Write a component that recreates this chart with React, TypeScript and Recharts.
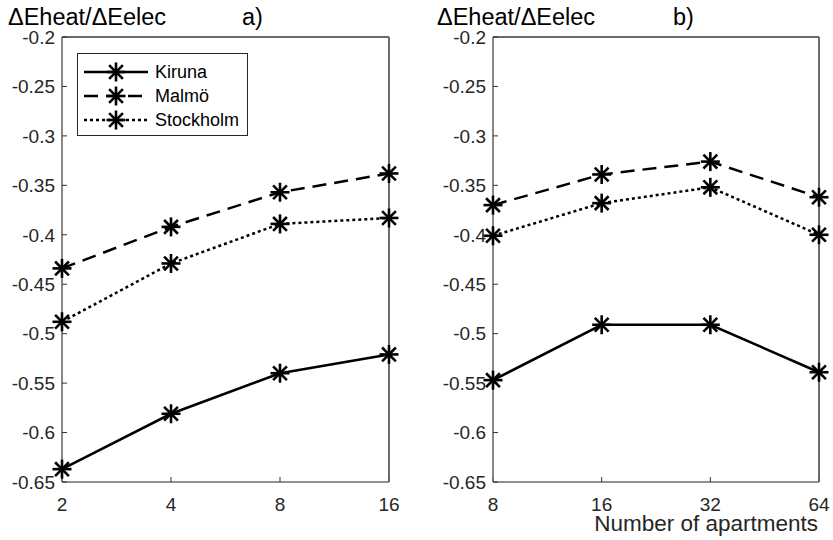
import React from 'react';
import { LineChart, Line, XAxis, YAxis, Legend, ReferenceLine } from 'recharts';

const categoriesA = ['2', '4', '8', '16'];
const kirunaA = [-0.637, -0.581, -0.54, -0.521];
const malmoA = [-0.434, -0.392, -0.357, -0.338];
const stockholmA = [-0.488, -0.429, -0.389, -0.383];

const categoriesB = ['8', '16', '32', '64'];
const kirunaB = [-0.547, -0.491, -0.491, -0.539];
const malmoB = [-0.37, -0.339, -0.326, -0.362];
const stockholmB = [-0.401, -0.368, -0.352, -0.4];

const yTicks = [-0.65, -0.6, -0.55, -0.5, -0.45, -0.4, -0.35, -0.3, -0.25, -0.2];
const yDomain = [-0.65, -0.2];
const seriesNames = ['Kiruna', 'Malmö', 'Stockholm'];
const yLabel = 'ΔEheat/ΔEelec';
const panelLabels = ['a)', 'b)'];
const xLabel = 'Number of apartments';

const FONT = '"Liberation Sans", Arial, Helvetica, sans-serif';
const dashes: (string | undefined)[] = [undefined, '14 8', '3 3'];
const AXIS_COLOR = '#6a6a6a';
const TICK_COLOR = '#333333';

const fmt = (v: number) => String(Number(v.toFixed(2)));

function buildRows(cats: string[], k: number[], m: number[], s: number[]) {
  return cats.map((c, i) => ({ n: c, Kiruna: k[i], 'Malmö': m[i], Stockholm: s[i] }));
}

const renderStar = (props: any) => {
  const { cx, cy, index } = props;
  if (cx == null || cy == null) return <g key={`s-${index}`} />;
  const r = 9.5;
  const d = 6.9;
  return (
    <g key={`s-${index}`} stroke="#000" strokeWidth={2.6} strokeDasharray="none" fill="none">
      <line x1={cx - r} y1={cy} x2={cx + r} y2={cy} />
      <line x1={cx} y1={cy - r} x2={cx} y2={cy + r} />
      <line x1={cx - d} y1={cy - d} x2={cx + d} y2={cy + d} />
      <line x1={cx - d} y1={cy + d} x2={cx + d} y2={cy - d} />
    </g>
  );
};

const LegendBox = () => (
  <svg width={171} height={83} style={{ display: 'block' }}>
    <rect x={0.5} y={0.5} width={170} height={82} fill="#fff" stroke="#262626" strokeWidth={1} />
    {seriesNames.map((name, i) => {
      const y = 19 + i * 24;
      return (
        <g key={name}>
          <line x1={7} y1={y} x2={71} y2={y} stroke="#000" strokeWidth={2.5} strokeDasharray={dashes[i]} />
          {renderStar({ cx: 39, cy: y, index: i })}
          <text x={78} y={y} dy="0.35em" fontSize={18} fontFamily={FONT} fill="#000">
            {name}
          </text>
        </g>
      );
    })}
  </svg>
);

function Panel(props: { rows: any[]; cats: string[]; width: number; marginRight: number; yAxisWidth: number; legend: boolean }) {
  const { rows, cats, width, marginRight, yAxisWidth, legend } = props;
  return (
    <LineChart
      width={width}
      height={540}
      data={rows}
      margin={{ top: 36, right: marginRight - 1, bottom: 18, left: 0 }}
    >
      <XAxis
        dataKey="n"
        type="category"
        xAxisId="bottom"
        orientation="bottom"
        height={40}
        tickSize={-5}
        tickMargin={21}
        interval={0}
        tick={{ fontSize: 19, fill: '#262626', fontFamily: FONT }}
        axisLine={{ stroke: AXIS_COLOR, strokeWidth: 1.6 }}
        tickLine={{ stroke: TICK_COLOR, strokeWidth: 1 }}
      />
      <XAxis
        dataKey="n"
        type="category"
        xAxisId="top"
        orientation="top"
        height={1}
        tickSize={-5}
        interval={0}
        tick={false}
        axisLine={{ stroke: AXIS_COLOR, strokeWidth: 1.6 }}
        tickLine={{ stroke: TICK_COLOR, strokeWidth: 1 }}
      />
      <YAxis
        yAxisId="left"
        orientation="left"
        width={yAxisWidth}
        type="number"
        domain={yDomain}
        ticks={yTicks}
        interval={0}
        tickFormatter={fmt}
        tickSize={-5}
        tickMargin={12}
        tick={{ fontSize: 19, fill: '#262626', fontFamily: FONT }}
        axisLine={{ stroke: AXIS_COLOR, strokeWidth: 1.6 }}
        tickLine={{ stroke: TICK_COLOR, strokeWidth: 1 }}
      />
      <YAxis
        yAxisId="right"
        orientation="right"
        width={1}
        type="number"
        domain={yDomain}
        ticks={yTicks}
        interval={0}
        tickSize={-5}
        tick={false}
        axisLine={{ stroke: AXIS_COLOR, strokeWidth: 1.6 }}
        tickLine={{ stroke: TICK_COLOR, strokeWidth: 1 }}
      />
      <ReferenceLine xAxisId="bottom" yAxisId="left" y={yDomain[1]} stroke={AXIS_COLOR} strokeWidth={1.8} />
      <ReferenceLine xAxisId="bottom" yAxisId="left" x={cats[cats.length - 1]} stroke={AXIS_COLOR} strokeWidth={1.8} />
      {seriesNames.map((name, i) => (
        <Line
          key={name}
          xAxisId="bottom"
          yAxisId="left"
          type="linear"
          dataKey={name}
          stroke="#000"
          strokeWidth={2.5}
          strokeDasharray={dashes[i]}
          dot={renderStar}
          activeDot={false}
          isAnimationActive={false}
        />
      ))}
      {legend && (
        <Legend
          layout="horizontal"
          verticalAlign="middle"
          content={() => <LegendBox />}
          wrapperStyle={{ left: 77, top: 53, width: 171, height: 83 }}
        />
      )}
    </LineChart>
  );
}

export default function App() {
  const rowsA = buildRows(categoriesA, kirunaA, malmoA, stockholmA);
  const rowsB = buildRows(categoriesB, kirunaB, malmoB, stockholmB);
  return (
    <div
      style={{
        position: 'absolute',
        left: 0,
        top: 0,
        width: 833,
        height: 540,
        background: '#fff',
        fontFamily: FONT,
      }}
    >
      <div style={{ position: 'absolute', left: 0, top: 0 }}>
        <Panel rows={rowsA} cats={categoriesA} width={416} marginRight={27} yAxisWidth={62} legend={true} />
      </div>
      <div style={{ position: 'absolute', left: 430, top: 0 }}>
        <Panel rows={rowsB} cats={categoriesB} width={403} marginRight={14} yAxisWidth={63} legend={false} />
      </div>
      <svg
        width={833}
        height={540}
        style={{ position: 'absolute', left: 0, top: 0, pointerEvents: 'none' }}
      >
        <text x={8} y={25} fontSize={23.5} fontFamily={FONT} fill="#000">{yLabel}</text>
        <text x={242} y={25} fontSize={23.5} fontFamily={FONT} fill="#000">{panelLabels[0]}</text>
        <text x={437} y={25} fontSize={23.5} fontFamily={FONT} fill="#000">{yLabel}</text>
        <text x={673} y={25} fontSize={23.5} fontFamily={FONT} fill="#000">{panelLabels[1]}</text>
        <text x={818} y={531} fontSize={22.5} fontFamily={FONT} fill="#262626" textAnchor="end">{xLabel}</text>
      </svg>
    </div>
  );
}
